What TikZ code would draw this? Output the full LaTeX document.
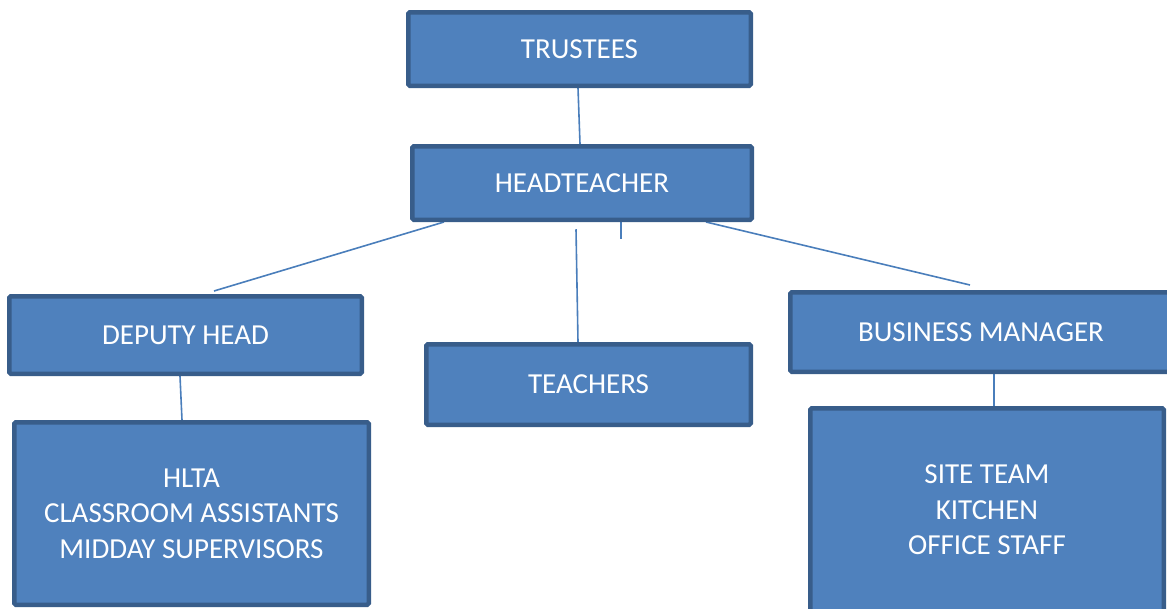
\documentclass[tikz,border=0pt]{standalone}
\usepackage{fontspec}
\setmainfont{Carlito}
\usetikzlibrary{backgrounds}
\definecolor{fillc}{HTML}{4F81BD}
\definecolor{bordc}{HTML}{385D8A}
\definecolor{linec}{HTML}{4A7EBB}
\tikzset{
  box/.style={draw=bordc, fill=fillc, line width=4.5pt, rounded corners=1.5pt,
    text=white, font=\fontsize{29}{35.5}\selectfont, align=center, inner sep=0pt},
  conn/.style={draw=linec, line width=1.6pt}
}
\begin{document}
\begin{tikzpicture}[x=1pt,y=-1pt]
\useasboundingbox (0,0) rectangle (1167,608);
\clip (0,0) rectangle (1167,608);
\node[box, minimum width=342.5pt, minimum height=73.5pt] (trustees) at (579.5,49) {TRUSTEES};
\node[box, minimum width=339.5pt, minimum height=73.5pt] (head) at (582,183) {HEADTEACHER};
\node[box, minimum width=352.5pt, minimum height=77.5pt] (deputy) at (185.5,335) {DEPUTY HEAD};
\node[box, minimum width=324.5pt, minimum height=80.5pt] (teachers) at (588.5,384.5) {TEACHERS};
\node[box, minimum width=381.5pt, minimum height=79.5pt] (bm) at (981,332) {BUSINESS MANAGER};
\node[box, minimum width=354.5pt, minimum height=182.5pt] (hlta) at (191.5,513.5) {HLTA\\CLASSROOM ASSISTANTS\\MIDDAY SUPERVISORS};
\node[box, minimum width=353.5pt, minimum height=203.5pt] (site) at (987,510) {SITE TEAM\\KITCHEN\\OFFICE STAFF};
\coordinate (tick) at ([xshift=39pt,yshift=-17pt]head.south);
\begin{scope}[on background layer]
\draw[conn] ([xshift=-1.5pt]trustees.south) -- ([xshift=-2pt]head.north);
\draw[conn] ([xshift=-138pt]head.south) -- ([xshift=28.5pt,yshift=3pt]deputy.north);
\draw[conn] ([xshift=-6pt,yshift=-7.25pt]head.south) -- ([xshift=-10.5pt]teachers.north);
\draw[conn] ([xshift=39pt]head.south) -- (tick);
\draw[conn] ([xshift=124pt]head.south) -- ([xshift=-11pt,yshift=5pt]bm.north);
\draw[conn] ([xshift=-5.5pt]deputy.south) -- ([xshift=-9.5pt]hlta.north);
\draw[conn] ([xshift=13pt]bm.south) -- ([xshift=7pt]site.north);
\end{scope}
\end{tikzpicture}
\end{document}
